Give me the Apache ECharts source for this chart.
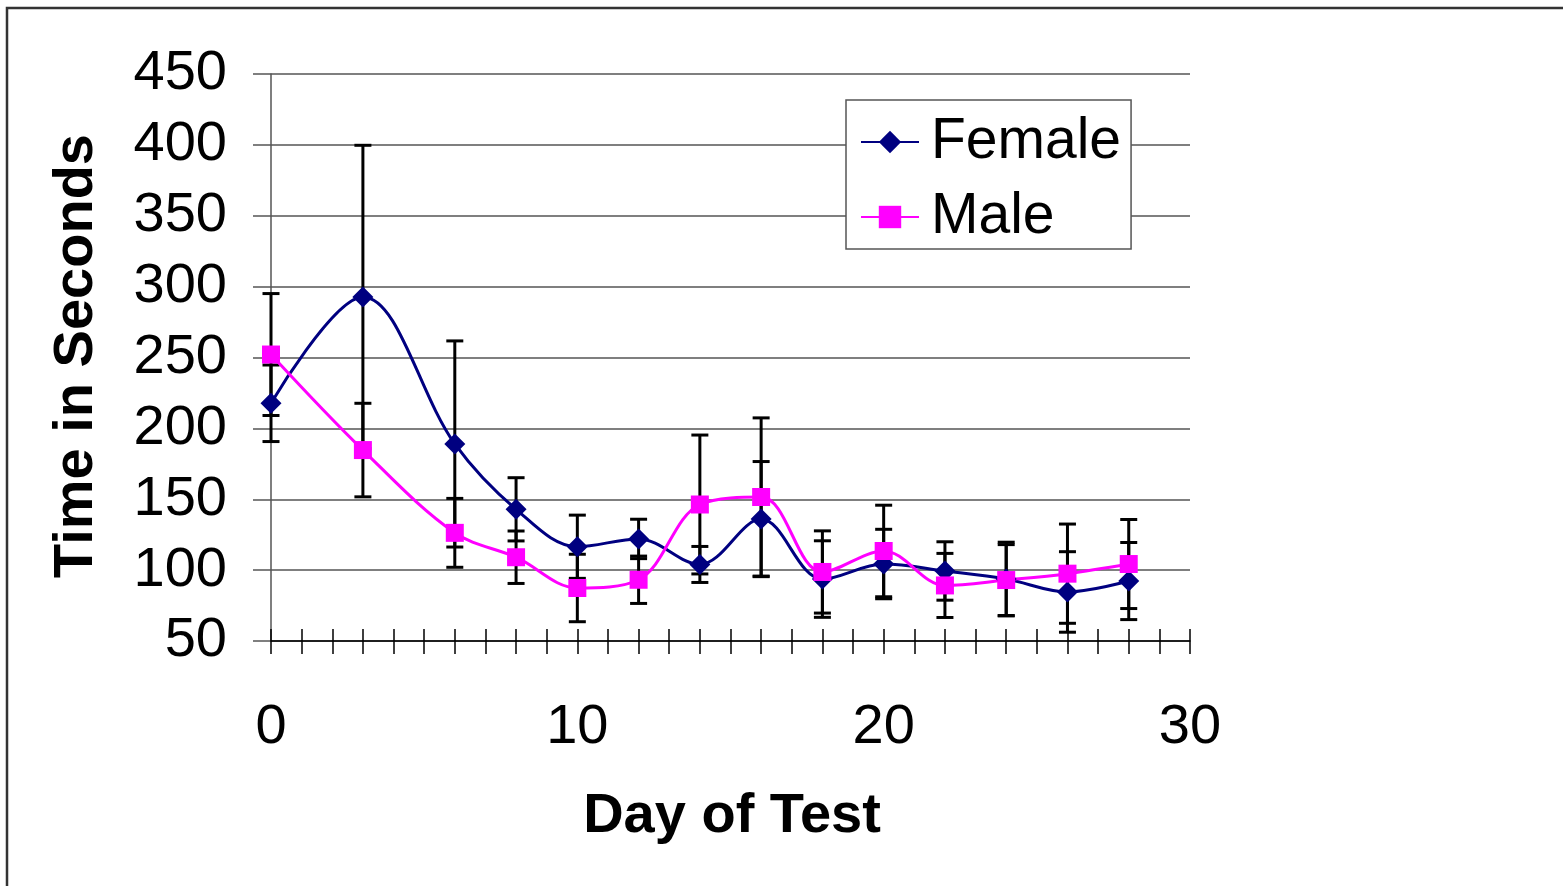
<!DOCTYPE html>
<html>
<head>
<meta charset="utf-8">
<script src="https://cdn.jsdelivr.net/npm/echarts@6/dist/echarts.min.js"></script>
<style>
  html, body { margin: 0; padding: 0; background: #fff; }
  #mainChart { width: 1563px; height: 886px; }
</style>
</head>
<body>
<div id="mainChart"></div>
<script>
// days of test
var days = [0, 3, 6, 8, 10, 12, 14, 16, 18, 20, 22, 24, 26, 28];
// mean times (seconds) and error bar half-lengths
var femaleMean = [217.7, 292.7, 189, 142.9, 116.5, 122, 104, 136, 93.7, 104.3, 99.4, 93.7, 84.6, 92.3];
var femaleErr = [27, 107, 72.7, 22.3, 22.3, 13.9, 12.7, 40.6, 27, 24.5, 20.6, 26, 28.4, 27.2];
var maleMean = [252.1, 184.7, 126.3, 109.1, 87.4, 93.2, 146.3, 151.6, 98.7, 113.5, 89.2, 93, 97.5, 104.3];
var maleErr = [43, 33, 24.3, 18.5, 23.8, 16.7, 49, 55.8, 29, 32.3, 22.6, 25, 35, 31.4];
var xTickLabels = [0, 10, 20, 30];

var FONT = '"Liberation Sans", Arial, sans-serif';

function pairs(xs, ys) {
  return xs.map(function (x, i) { return [x, ys[i]]; });
}
function errData(xs, ys, es) {
  return xs.map(function (x, i) { return [x, ys[i] - es[i], ys[i] + es[i]]; });
}

// error bar drawn as vertical line with caps
function renderErr(params, api) {
  var top = api.coord([api.value(0), api.value(2)]);
  var bot = api.coord([api.value(0), api.value(1)]);
  var w = 8.5;
  var st = { stroke: '#000', lineWidth: 3 };
  return {
    type: 'group',
    children: [
      { type: 'line', shape: { x1: top[0], y1: top[1], x2: bot[0], y2: bot[1] }, style: st },
      { type: 'line', shape: { x1: top[0] - w, y1: top[1], x2: top[0] + w, y2: top[1] }, style: st },
      { type: 'line', shape: { x1: bot[0] - w, y1: bot[1], x2: bot[0] + w, y2: bot[1] }, style: st }
    ]
  };
}

var myChart = echarts.init(document.getElementById('mainChart'));

var option = {
  animation: false,
  backgroundColor: '#fff',
  textStyle: { fontFamily: FONT },
  grid: { left: 271, right: 373, top: 74, bottom: 245, containLabel: false },
  legend: {
    orient: 'vertical',
    left: 846,
    top: 100,
    padding: [12, 10, 2, 14],
    itemWidth: 58,
    itemHeight: 28,
    itemGap: 15,
    backgroundColor: '#fff',
    borderColor: '#555',
    borderWidth: 1.5,
    textStyle: { fontSize: 57, color: '#000', fontFamily: FONT, lineHeight: 60, padding: [0, 0, 0, 7] },
    data: ['Female', 'Male']
  },
  xAxis: [
    {
      type: 'value',
      min: 0,
      max: 30,
      interval: 1,
      position: 'bottom',
      axisLine: { show: true, lineStyle: { color: '#000', width: 1.5 } },
      axisTick: { show: true, inside: false, length: 13, lineStyle: { color: '#000', width: 1.5 } },
      axisLabel: {
        fontSize: 56,
        color: '#000',
        fontFamily: FONT,
        margin: 59,
        formatter: function (v) { return xTickLabels.indexOf(v) >= 0 ? String(v) : ''; }
      },
      splitLine: { show: false }
    },
    {
      type: 'value',
      min: 0,
      max: 30,
      interval: 1,
      position: 'bottom',
      offset: 0,
      axisLine: { show: false },
      axisTick: { show: true, inside: true, length: 12, lineStyle: { color: '#000', width: 1.5 } },
      axisLabel: { show: false },
      splitLine: { show: false }
    }
  ],
  yAxis: {
    type: 'value',
    min: 50,
    max: 450,
    interval: 50,
    axisLine: { show: true, lineStyle: { color: '#555', width: 1.5 } },
    axisTick: { show: true, inside: false, length: 18, lineStyle: { color: '#555', width: 1.5 } },
    axisLabel: { fontSize: 56, color: '#000', fontFamily: FONT, margin: 44 },
    splitLine: { show: true, lineStyle: { color: '#555', width: 1.5 } }
  },
  graphic: [
    {
      type: 'rect',
      silent: true,
      z: -1,
      shape: { x: 7, y: 8, width: 1700, height: 1000 },
      style: { fill: 'none', stroke: '#333', lineWidth: 2.5 }
    },
    {
      type: 'text',
      x: 732,
      y: 817,
      style: {
        text: 'Day of Test',
        font: 'bold 56px ' + FONT,
        fill: '#000',
        textAlign: 'center',
        textVerticalAlign: 'middle'
      }
    },
    {
      type: 'text',
      x: 77,
      y: 356,
      rotation: Math.PI / 2,
      style: {
        text: 'Time in Seconds',
        font: 'bold 56px ' + FONT,
        fill: '#000',
        textAlign: 'center',
        textVerticalAlign: 'middle'
      }
    }
  ],
  series: [
    {
      name: 'FemaleErr',
      type: 'custom',
      renderItem: renderErr,
      data: errData(days, femaleMean, femaleErr),
      encode: { x: 0, y: [1, 2] },
      z: 3,
      silent: true
    },
    {
      name: 'MaleErr',
      type: 'custom',
      renderItem: renderErr,
      data: errData(days, maleMean, maleErr),
      encode: { x: 0, y: [1, 2] },
      z: 3,
      silent: true
    },
    {
      name: 'Female',
      type: 'line',
      data: pairs(days, femaleMean),
      smooth: 0.35,
      symbol: 'diamond',
      symbolSize: 21,
      lineStyle: { color: '#000080', width: 3 },
      itemStyle: { color: '#000080' },
      z: 4
    },
    {
      name: 'Male',
      type: 'line',
      data: pairs(days, maleMean),
      smooth: 0.35,
      symbol: 'rect',
      symbolSize: 18,
      lineStyle: { color: '#ff00ff', width: 3 },
      itemStyle: { color: '#ff00ff' },
      z: 4
    }
  ]
};

myChart.setOption(option);
</script>
</body>
</html>
